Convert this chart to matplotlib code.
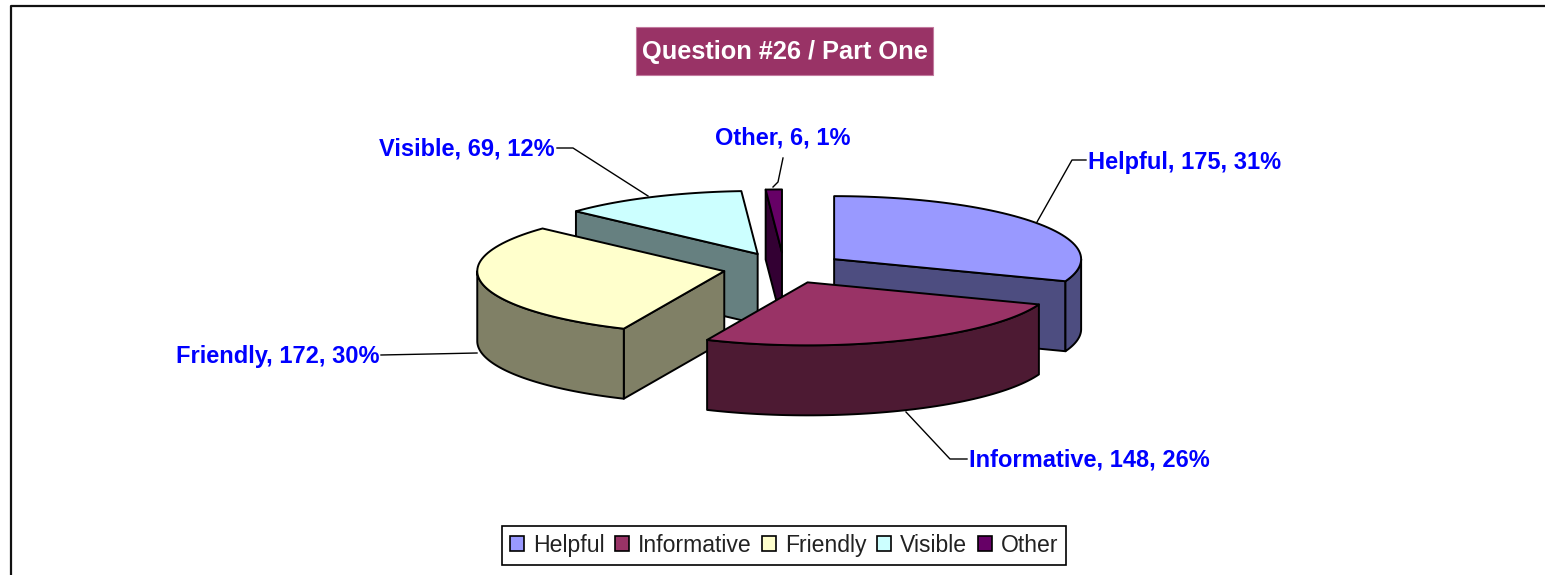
import numpy as np
import matplotlib
matplotlib.use('Agg')
import matplotlib.pyplot as plt
from matplotlib.patches import Polygon, Rectangle, Patch

# chart data
categories = ['Helpful', 'Informative', 'Friendly', 'Visible', 'Other']
values = [175, 148, 172, 69, 6]

# one colour per slice, top face and darker side
top_colors = ['#9999FF', '#993366', '#FFFFCC', '#CCFFFF', '#660066']
side_colors = ['#4D4D80', '#4D1A33', '#808066', '#668080', '#330033']

# pie geometry in pixels
CX, CY = 784, 268
RX, RY = 247, 63
DEPTH = 70
EXPLODE = 61

plt.rcParams['font.family'] = ['Liberation Sans', 'DejaVu Sans']

fig = plt.figure(figsize=(15.45, 5.75), dpi=100, facecolor='white')
ax = fig.add_axes([0, 0, 1, 1])
ax.set_xlim(0, 1545)
ax.set_ylim(575, 0)
ax.axis('off')


def rim_points(ox, oy, a, b, n=60):
    # points on the ellipse, angles in degrees clockwise from 12 o'clock
    t = np.radians(np.linspace(a, b, n))
    return np.column_stack([ox + RX * np.sin(t), oy - RY * np.cos(t)])


def draw_slice(a, b, top, side, z):
    mid = np.radians((a + b) / 2)
    ox = CX + EXPLODE * np.sin(mid)
    oy = CY - EXPLODE * RY / RX * np.cos(mid)
    apex = np.array([[ox, oy]])
    down = np.array([0, DEPTH])
    style = dict(edgecolor='black', linewidth=1.4, joinstyle='round', zorder=z)

    # cut faces that look towards the viewer
    for ang, visible in [(a, np.sin(np.radians(a)) < -1e-6), (b, np.sin(np.radians(b)) > 1e-6)]:
        if visible:
            p = rim_points(ox, oy, ang, ang, 1)
            quad = np.vstack([apex, p, p + down, apex + down])
            ax.add_patch(Polygon(quad, closed=True, facecolor=side, **style))

    # outer rim, only the front half shows
    lo, hi = max(a, 90), min(b, 270)
    if lo < hi:
        arc = rim_points(ox, oy, lo, hi)
        ax.add_patch(Polygon(np.vstack([arc, arc[::-1] + down]), closed=True, facecolor=side, **style))

    face = np.vstack([apex, rim_points(ox, oy, a, b)])
    ax.add_patch(Polygon(face, closed=True, facecolor=top, **style))


total = sum(values)
angles = np.cumsum([0] + values) / total * 360
mids = (angles[:-1] + angles[1:]) / 2

# paint from the back of the pie to the front
order = sorted(range(len(values)), key=lambda i: -np.cos(np.radians(mids[i])))
for z, i in enumerate(order):
    draw_slice(angles[i], angles[i + 1], top_colors[i], side_colors[i], 3 + z)

# data labels and their leader lines
label_pos = [(1088, 159.5, 'left'), (969, 457.5, 'left'), (379, 353.5, 'right'), (555, 146.5, 'right'), (783, 135.5, 'center')]
leaders = [
    [(1037, 222), (1072, 160), (1086, 160)],
    [(906, 412), (950, 459), (967, 459)],
    [(477, 353), (430, 354), (381, 355)],
    [(648, 196), (573, 148), (557, 148)],
    [(773, 187), (778, 182), (783, 158)],
]
for i, name in enumerate(categories):
    x, y, ha = label_pos[i]
    ax.text(x, y, f'{name}, {values[i]}, {values[i] / total:.0%}', color='#0000FF',
            fontsize=17, fontweight='bold', ha=ha, va='center_baseline', zorder=20)
    xs, ys = zip(*leaders[i])
    ax.plot(xs, ys, color='black', linewidth=1, zorder=2)

# title box
ax.add_patch(Rectangle((636, 27), 297, 48, facecolor='#993366', edgecolor='#C27A9E', linewidth=0.8, zorder=20))
ax.text(784.5, 49.5, 'Question #26 / Part One', color='white', fontsize=18.3, fontweight='bold',
        ha='center', va='center_baseline', zorder=21)

# outer chart border, top and left only
ax.plot([11, 11, 1545], [575, 6, 6], color='#111111', linewidth=1.6, zorder=1)

handles = [Patch(facecolor=c, edgecolor='black', linewidth=1.2) for c in top_colors]
leg = ax.legend(handles, categories, loc='center', bbox_to_anchor=(784 / 1545, 1 - 545.5 / 575), ncol=5,
                fontsize=16.6, frameon=True, fancybox=False, framealpha=1, edgecolor='black',
                handlelength=0.62, handleheight=0.62, handletextpad=0.38, columnspacing=0.45,
                borderpad=0.36, borderaxespad=0)
leg.get_frame().set_linewidth(1.2)
leg.set_zorder(20)
for t in leg.get_texts():
    t.set_color('#222222')

plt.savefig('out.png', dpi=100)
